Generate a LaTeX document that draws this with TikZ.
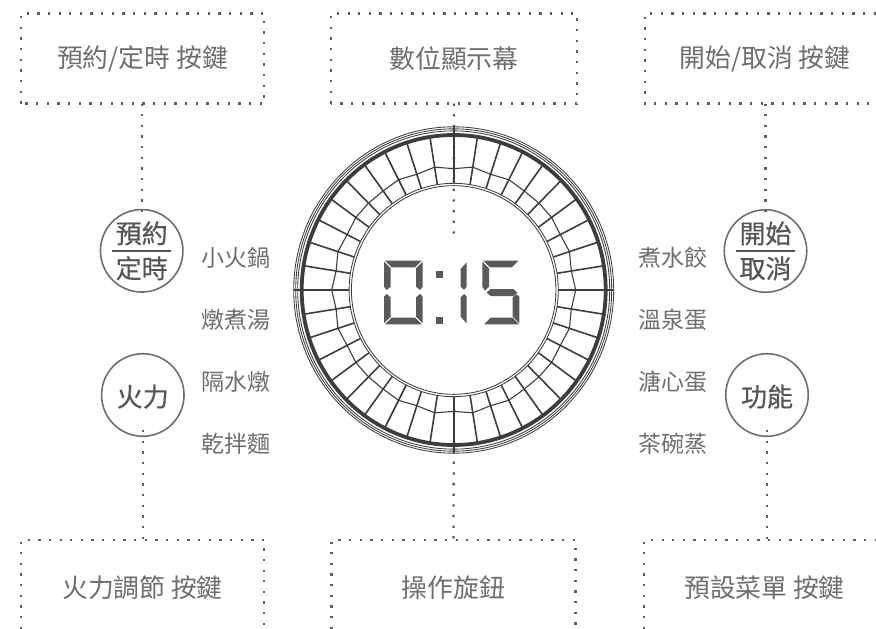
\documentclass[tikz,border=0pt]{standalone}
\usepackage{fontspec}
\setmainfont{Noto Sans CJK TC}
\newfontfamily\btnfont[FakeBold=0.5]{Noto Sans CJK TC}
\definecolor{ringc}{HTML}{3F3D3A}
\definecolor{dotc}{HTML}{5E5E5E}
\definecolor{segc}{HTML}{5A5A5C}
\definecolor{lbl}{HTML}{6E6E6E}
\definecolor{btn}{HTML}{555555}
\tikzset{
  dotline/.style={draw=dotc,line width=2.3pt,dash pattern=on 2.3pt off 8.35pt},
  boxnode/.style={rectangle,inner sep=0pt,outer sep=0pt,text=lbl,font=\fontsize{25.8}{30}\selectfont},
  itemtext/.style={inner sep=0pt,text=lbl,font=\fontsize{23}{27}\selectfont},
  btnnode/.style={circle,draw=lbl,line width=1.6pt,minimum size=82.5pt,inner sep=0pt,text=btn,align=center,font=\btnfont\fontsize{26}{35}\selectfont},
  seg/.style={fill=segc,draw=none},
}
\begin{document}
\begin{tikzpicture}[x=1pt,y=-1pt]
\useasboundingbox (0,0) rectangle (876,629);
% boxes
\node[boxnode,minimum width=243.6pt,minimum height=90pt] (lt) at (142.5,58.5) {預約/定時 按鍵};
\node[boxnode,minimum width=246pt,minimum height=90pt] (ct) at (454,58.5) {數位顯示幕};
\node[boxnode,minimum width=231pt,minimum height=90pt] (rt) at (760.5,58.5) {\hspace*{9pt}開始/取消 按鍵};
\node[boxnode,minimum width=243.6pt,minimum height=89pt] (lb) at (142.5,584.5) {\raisebox{-12.5pt}[14pt][14pt]{火力調節 按鍵}};
\node[boxnode,minimum width=244pt,minimum height=89pt] (cb) at (453.5,584.5) {\raisebox{-12.5pt}[14pt][14pt]{操作旋鈕}};
\node[boxnode,minimum width=232pt,minimum height=89pt] (rb) at (760,584.5) {\hspace*{9pt}\raisebox{-12.5pt}[14pt][14pt]{預設菜單 按鍵}};
\draw[dotline] (lt.south west) rectangle (lt.north east);
\draw[dotline] (ct.south west) rectangle (ct.north east);
\draw[dotline] (rt.north east) -- (rt.north west) -- (rt.south west) -- (rt.south east);
\draw[dotline] (lb.south west) -- (lb.north west) -- (lb.north east) -- (lb.south east);
\draw[dotline] (cb.south west) -- (cb.north west) -- (cb.north east) -- (cb.south east);
\draw[dotline] (rb.south west) -- (rb.north west) -- (rb.north east);
% buttons
\node[btnnode] (pre) at (141.7,250.8) {預約\\定時};
\node[btnnode] (fire) at (142.8,395) {\raisebox{-11.5pt}[14pt][14pt]{火力}};
\node[btnnode] (start) at (765.5,251) {開始\\取消};
\node[btnnode] (func) at (767,395) {\raisebox{-11.5pt}[14pt][14pt]{功能}};
\draw[btn,line width=1.5pt] ([xshift=-29.5pt]pre.center) -- ([xshift=29.5pt]pre.center);
\draw[btn,line width=1.5pt] ([xshift=-29.5pt]start.center) -- ([xshift=29.5pt]start.center);
% connectors
\coordinate (dispEnd) at (453.7,237.5);
\coordinate (dialBottom) at (453.7,451);
\draw[dotline] (pre.north |- lt.south) -- ([yshift=-6pt]pre.north);
\draw[dotline] (start.north |- rt.south) -- ([yshift=-6pt]start.north);
\draw[dotline] (ct.south) -- (dispEnd);
\draw[dotline] ([yshift=7pt]fire.south) -- (fire.south |- lb.north);
\draw[dotline] ([yshift=7pt]func.south) -- (func.south |- rb.north);
\draw[dotline] (dialBottom) -- (cb.north);
% dial
\begin{scope}[shift={(453.7,290)},x=1pt,y=-1.02pt,color=ringc]
  \foreach \r in {160,158,156}
    \draw[line width=.85pt] (0,0) circle [x radius=\r pt,y radius=1.02*\r pt];
  \draw[line width=3.8pt] (0,0) circle [x radius=152pt,y radius=155pt];
  \foreach \r in {104.6,102.3}
    \draw[line width=.85pt] (0,0) circle [x radius=\r pt,y radius=1.02*\r pt];
  \foreach \a in {0,9,...,351}
    \draw[line width=1.6pt] (\a:104.6) -- (\a:152);
  \foreach \a in {0,90,180,270}
    \draw[line width=1.6pt] (\a:152) -- (\a:160);
  \draw[line width=1.1pt,line join=round] plot[samples at={0,9,...,351}] (\x:{120.5+1.5*cos(2*\x)*cos(20*\x)}) -- cycle;
\end{scope}
% digits
\begin{scope}[shift={(370,245)},x=0.33333pt,y=-0.33333pt]
  % 0
  \fill[seg] (45,47)--(155,47)--(135,67)--(65,67)--cycle;
  \fill[seg] (42,50)--(62,70)--(62,125)--(50,135)--(42,125)--cycle;
  \fill[seg] (158,50)--(158,125)--(150,135)--(138,125)--(138,70)--cycle;
  \fill[seg] (42,155)--(50,147)--(62,157)--(62,215)--(42,235)--cycle;
  \fill[seg] (158,155)--(150,147)--(138,157)--(138,215)--(158,235)--cycle;
  \fill[seg] (45,238)--(65,218)--(135,218)--(155,238)--cycle;
  % colon
  \fill[seg] (198,78) rectangle (220,100);
  \fill[seg] (198,216) rectangle (220,238);
  % 1
  \fill[seg] (290,52)--(290,125)--(282,135)--(272,125)--(272,72)--cycle;
  \fill[seg] (290,155)--(282,147)--(272,157)--(272,215)--(290,235)--cycle;
  % 5
  \fill[seg] (340,47)--(445,47)--(425,67)--(360,67)--cycle;
  \fill[seg] (337,50)--(357,70)--(357,125)--(345,137)--(337,125)--cycle;
  \fill[seg] (350,143)--(362,132)--(430,132)--(442,143)--(430,153)--(362,153)--cycle;
  \fill[seg] (448,155)--(448,235)--(428,215)--(428,157)--(438,147)--cycle;
  \fill[seg] (342,238)--(362,218)--(428,218)--(447,238)--cycle;
\end{scope}
% item labels
\node[itemtext] (i1) at (235.5,258) {小火鍋};
\node[itemtext] (i2) at (235.5,320) {燉煮湯};
\node[itemtext] (i3) at (235.5,382) {隔水燉};
\node[itemtext] (i4) at (235.5,443.5) {乾拌麵};
\node[itemtext] (j1) at (673,258) {煮水餃};
\node[itemtext] (j2) at (673,320) {溫泉蛋};
\node[itemtext] (j3) at (673,382) {溏心蛋};
\node[itemtext] (j4) at (673,443.5) {茶碗蒸};
\end{tikzpicture}
\end{document}
